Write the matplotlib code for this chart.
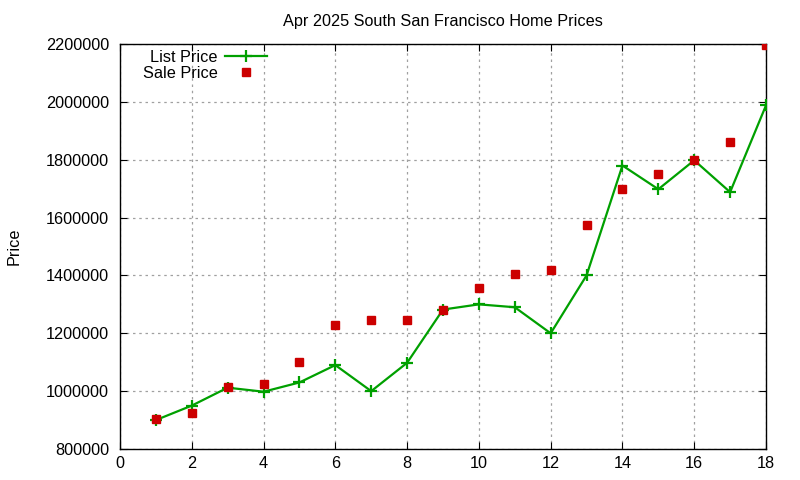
import matplotlib
matplotlib.use("Agg")
import matplotlib.pyplot as plt

# month index (x) and prices
months = list(range(1, 19))
list_price = [900000, 950000, 1012000, 998000, 1030000, 1090000, 1000000, 1098000, 1282000,
              1300000, 1290000, 1200000, 1400000, 1780000, 1698000, 1798000, 1688000, 1988000]
sale_price = [905000, 925000, 1015000, 1025000, 1102000, 1230000, 1245000, 1245000, 1280000,
              1358000, 1406000, 1420000, 1575000, 1700000, 1750000, 1800000, 1862000, 2198000]

x_ticks = list(range(0, 19, 2))
y_ticks = list(range(800000, 2200001, 200000))

plt.rcParams["font.family"] = ["Liberation Sans", "DejaVu Sans"]
FS = 11.7

fig = plt.figure(figsize=(8, 4.8), dpi=100)
ax = fig.add_axes([0.15, 0.0646, 0.8075, 0.8437])

ax.plot(months, list_price, color="#00a000", lw=1.6, marker="+", ms=8, mew=1.6,
        label="List Price", zorder=3)
ax.plot(months, sale_price, ls="none", color="#cc0000", marker="s", ms=6.2,
        label="Sale Price", zorder=4)

ax.set_xlim(0, 18)
ax.set_ylim(800000, 2200000)
ax.set_xticks(x_ticks)
ax.set_yticks(y_ticks)
ax.ticklabel_format(style="plain", axis="y", useOffset=False)
ax.tick_params(direction="in", top=True, right=True, length=5, labelsize=FS, colors="black")
ax.tick_params(axis="x", pad=5)
ax.tick_params(axis="y", pad=8)
ax.grid(True, color="#a0a0a0", ls=(0, (2, 3)), lw=0.9)
for s in ax.spines.values():
    s.set_linewidth(1.0)

ax.set_title("Apr 2025 South San Francisco Home Prices", fontsize=FS, pad=13)
ax.set_ylabel("Price", fontsize=FS, labelpad=17)

ax.legend(loc="upper right", bbox_to_anchor=(0.2276, 0.985), frameon=False, markerfirst=False,
          fontsize=FS, handlelength=2.6, handletextpad=0.43, borderaxespad=0, borderpad=0,
          labelspacing=0.05)

fig.savefig("out.png", dpi=100)
